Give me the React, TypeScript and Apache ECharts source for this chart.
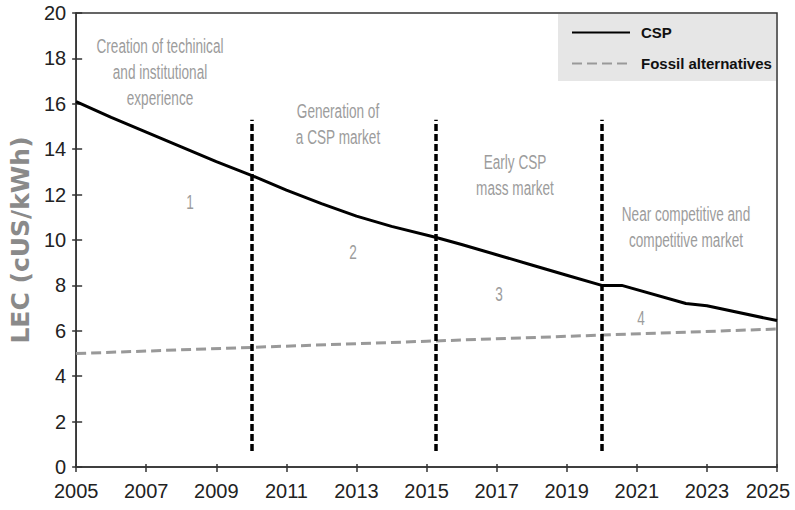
import React, { useEffect, useRef } from 'react';
import * as echarts from 'echarts';

// ---- data ----
const BASE_YEAR = 2005;
const cspYears = [2005, 2006, 2007, 2008, 2009, 2010, 2011, 2012, 2013, 2014, 2015.25, 2016, 2017, 2018, 2019, 2020, 2020.57, 2022.4, 2023, 2025];
const cspValues = [16.1, 15.4, 14.75, 14.1, 13.45, 12.85, 12.2, 11.6, 11.05, 10.6, 10.12, 9.8, 9.35, 8.9, 8.45, 8.0, 8.0, 7.2, 7.1, 6.45];
const fossilYears = [2005, 2010, 2015, 2020, 2025];
const fossilValues = [5.0, 5.27, 5.54, 5.81, 6.08];
const phaseBoundaryYears = [2010, 2015.25, 2020];
const phaseLineSpan = [0.7, 15.3];
const phaseTitles = [
  'Creation of techinical\nand institutional\nexperience',
  'Generation of\na CSP market',
  'Early CSP\nmass market',
  'Near competitive and\ncompetitive market',
];
const phaseNumbers = ['1', '2', '3', '4'];
const seriesNames = ['CSP', 'Fossil alternatives'];
const yAxisTitle = 'LEC (cUS/kWh)';
const xMinYear = 2005;
const xMaxYear = 2025;
const yMin = 0;
const yMax = 20;
const tickStep = 2;

const toPairs = (xs: number[], ys: number[]) => xs.map((x, i) => [x - BASE_YEAR, ys[i]]);

export default function App() {
  const ref = useRef<HTMLDivElement>(null);

  useEffect(() => {
    document.body.style.margin = '0';
    if (!ref.current) return;
    const chart = echarts.init(ref.current, undefined, { renderer: 'svg' });

    const tickFont = "'Liberation Sans', Arial, sans-serif";
    const noteFont = "'Liberation Sans', Arial, sans-serif";
    const noteColor = '#9c9c9c';
    const axisColor = '#333';

    const titlePos = [
      [160, 34],
      [338, 99],
      [515, 150],
      [686, 202],
    ];
    const numberPos = [
      [190, 203],
      [353, 253],
      [499, 295],
      [641, 319],
    ];

    const graphic: any[] = [
      {
        type: 'rect',
        z: -10,
        shape: { x: 558, y: 14, width: 218, height: 67 },
        style: { fill: '#e6e6e6' },
        silent: true,
      },
    ];
    phaseTitles.forEach((t, i) => {
      graphic.push({
        type: 'text',
        x: titlePos[i][0],
        y: titlePos[i][1],
        scaleX: 0.68,
        silent: true,
        style: {
          text: t,
          fill: noteColor,
          font: `20px ${noteFont}`,
          textAlign: 'center',
          textVerticalAlign: 'top',
          lineHeight: 26,
        },
      });
    });
    phaseNumbers.forEach((t, i) => {
      graphic.push({
        type: 'text',
        x: numberPos[i][0],
        y: numberPos[i][1],
        scaleX: 0.68,
        silent: true,
        style: {
          text: t,
          fill: noteColor,
          font: `20px ${noteFont}`,
          textAlign: 'center',
          textVerticalAlign: 'middle',
        },
      });
    });

    const xRange = { min: xMinYear - BASE_YEAR, max: xMaxYear - BASE_YEAR, interval: tickStep };

    const option: any = {
      animation: false,
      backgroundColor: '#ffffff',
      grid: {
        left: 75,
        right: 18,
        top: 13,
        bottom: 43,
        show: true,
        borderColor: axisColor,
        borderWidth: 1.5,
        backgroundColor: 'transparent',
      },
      legend: {
        data: seriesNames,
        orient: 'vertical',
        left: 571,
        top: 25,
        padding: 0,
        itemWidth: 58,
        itemHeight: 14,
        itemGap: 16,
        itemStyle: { opacity: 0 },
        textStyle: {
          fontFamily: "'Liberation Sans', Arial, sans-serif",
          fontWeight: 'bold',
          fontSize: 15,
          color: '#111',
          padding: [0, 0, 0, 6],
        },
      },
      xAxis: [
        {
          type: 'value',
          ...xRange,
          axisLine: { lineStyle: { color: axisColor, width: 1.5 } },
          axisTick: { length: 5, lineStyle: { color: axisColor, width: 1.5 } },
          axisLabel: {
            fontSize: 20,
            fontFamily: tickFont,
            color: '#222',
            margin: 14,
            formatter: (v: number) =>
              v + BASE_YEAR === xMaxYear ? `{last|${v + BASE_YEAR}}` : String(v + BASE_YEAR),
            rich: {
              last: { fontSize: 20, fontFamily: tickFont, color: '#222', padding: [0, 18, 0, 0] },
            },
          },
          splitLine: { show: false },
        },
        {
          type: 'value',
          ...xRange,
          position: 'bottom',
          axisLine: { show: false },
          axisTick: { inside: true, length: 3, lineStyle: { color: axisColor, width: 1.5 } },
          axisLabel: { show: false },
          splitLine: { show: false },
        },
      ],
      yAxis: [
        {
          type: 'value',
          min: yMin,
          max: yMax,
          interval: tickStep,
          name: yAxisTitle,
          nameLocation: 'middle',
          nameGap: 40,
          nameRotate: 90,
          nameTextStyle: {
            fontSize: 25,
            fontWeight: 'bold',
            fontFamily: "'DejaVu Sans', sans-serif",
            color: '#8a8a8a',
          },
          axisLine: { lineStyle: { color: axisColor, width: 1.5 } },
          axisTick: { length: 4, lineStyle: { color: axisColor, width: 1.5 } },
          axisLabel: { fontSize: 20, fontFamily: tickFont, color: '#222', margin: 10 },
          splitLine: { show: false },
        },
        {
          type: 'value',
          min: yMin,
          max: yMax,
          interval: tickStep,
          position: 'left',
          axisLine: { show: false },
          axisTick: { inside: true, length: 6, lineStyle: { color: axisColor, width: 1.5 } },
          axisLabel: { show: false },
          splitLine: { show: false },
        },
      ],
      series: [
        {
          name: seriesNames[0],
          type: 'line',
          data: toPairs(cspYears, cspValues),
          showSymbol: false,
          symbol: 'none',
          smooth: false,
          lineStyle: { color: '#000', width: 3 },
          itemStyle: { color: '#000' },
          z: 5,
          markLine: {
            silent: true,
            symbol: 'none',
            label: { show: false },
            lineStyle: { color: '#000', width: 3.5, type: [7, 3] },
            data: phaseBoundaryYears.map((yr) => [
              { coord: [yr - BASE_YEAR, phaseLineSpan[0]] },
              { coord: [yr - BASE_YEAR, phaseLineSpan[1]] },
            ]),
          },
        },
        {
          name: seriesNames[1],
          type: 'line',
          data: toPairs(fossilYears, fossilValues),
          showSymbol: false,
          symbol: 'none',
          lineStyle: { color: '#999', width: 3, type: [10, 5] },
          itemStyle: { color: '#999' },
          z: 4,
        },
      ],
      graphic,
    };

    chart.setOption(option);
    return () => chart.dispose();
  }, []);

  return <div ref={ref} style={{ width: 795, height: 510 }} />;
}
